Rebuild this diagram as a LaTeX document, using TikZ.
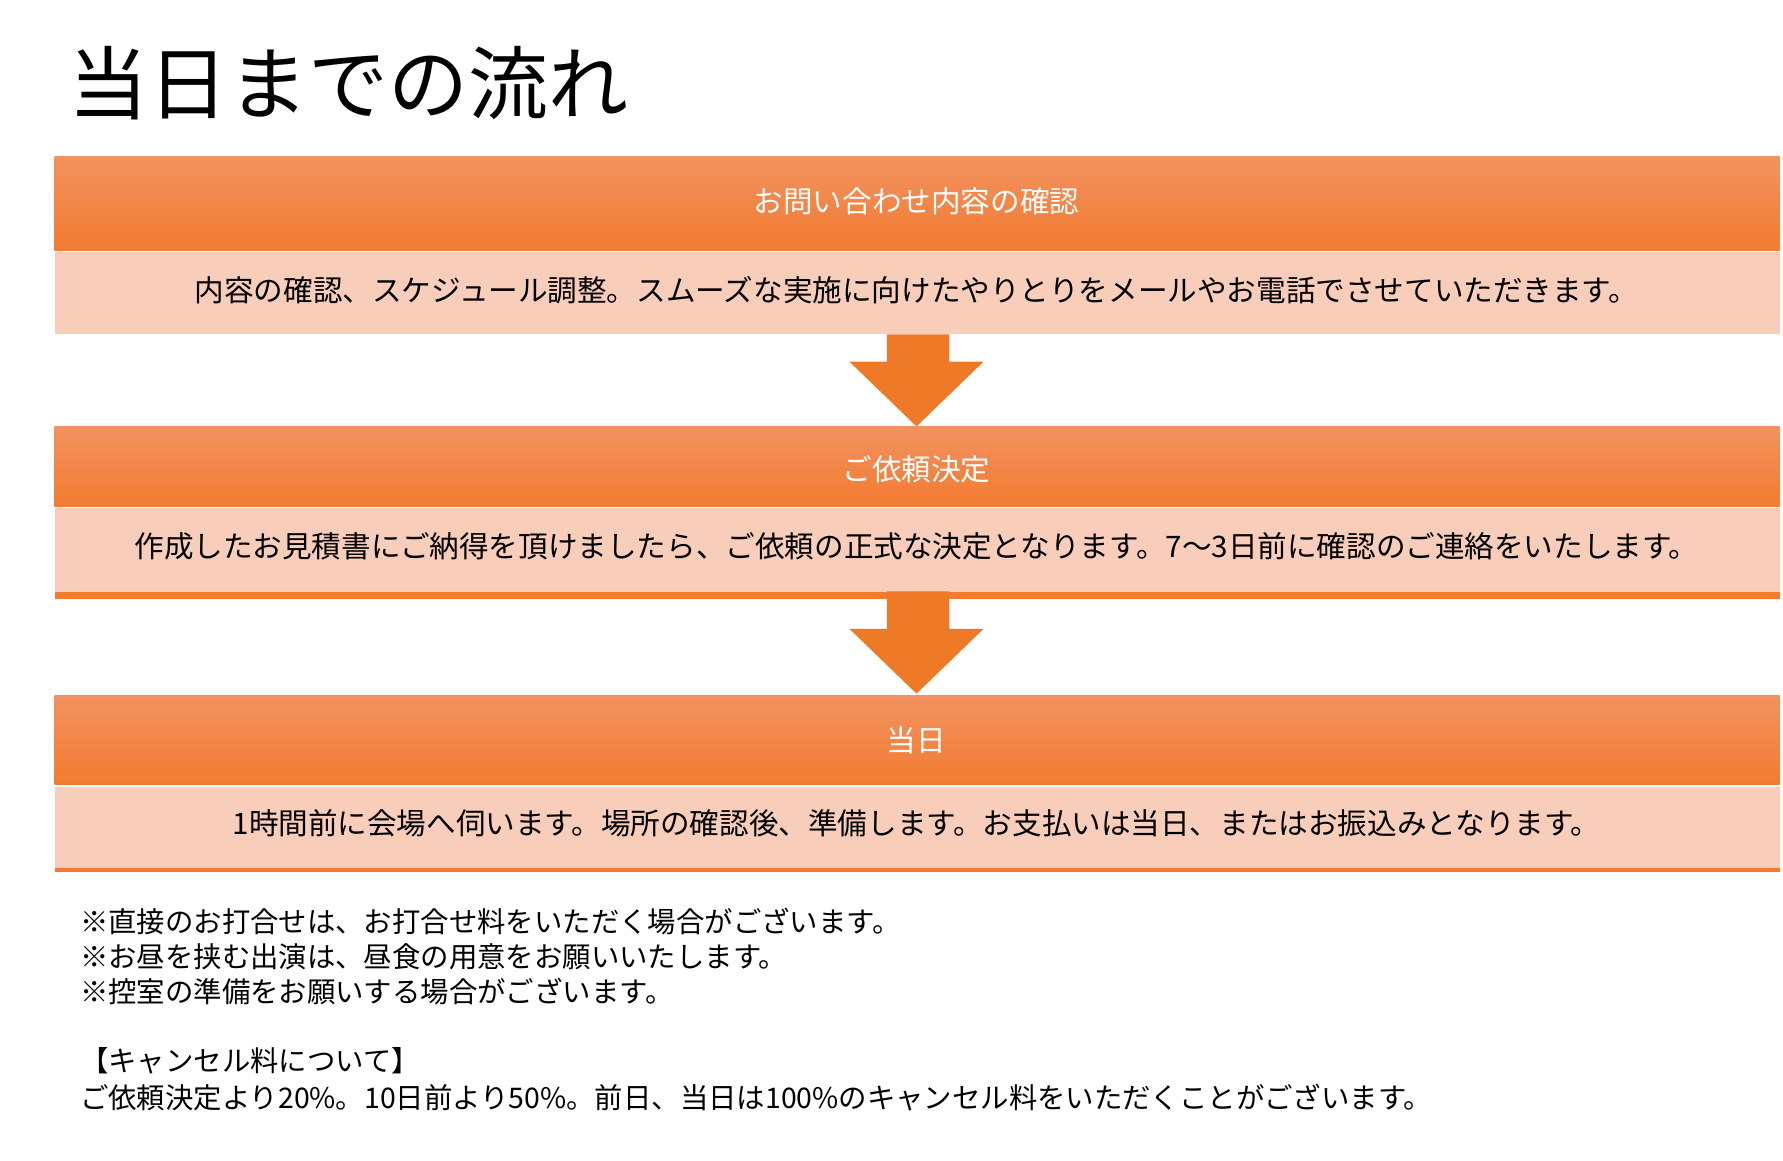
\documentclass[tikz,border=0pt]{standalone}
\usepackage{fontspec}
\setmainfont{Noto Sans CJK JP}
\begin{document}
\begin{tikzpicture}[x=0.01cm,y=-0.01cm,
  hdr/.style={top color=orange!60!white!90!red, bottom color=hdrbot, draw=none},
  bodybox/.style={fill=bodyfill, draw=none},
  htext/.style={text=white, font=\fontsize{7.4pt}{9pt}\selectfont},
  btext/.style={text=black, font=\fontsize{7.4pt}{9pt}\selectfont},
  ntext/.style={text=black, anchor=west, font=\fontsize{7.1pt}{9pt}\selectfont},
  arr/.style={fill=arrcol, draw=none}]
\definecolor{hdrtop}{HTML}{F29260}
\definecolor{hdrbot}{HTML}{F27B30}
\definecolor{bodyfill}{HTML}{F8CDBA}
\definecolor{arrcol}{HTML}{EE7A28}
\useasboundingbox (0,0) rectangle (1568,1021);
\fill[white] (0,0) rectangle (1568,1021);
\node[anchor=west, font=\fontsize{20pt}{24pt}\selectfont] (title) at (48,73) {当日までの流れ};
% box 1
\shade[top color=hdrtop, bottom color=hdrbot] (48,138) rectangle (1565,220);
\node[htext] (h1) at (806,177) {お問い合わせ内容の確認};
\fill[bodyfill] (48,222) rectangle (1565,294);
\node[btext] (b1) at (806,255) {内容の確認、スケジュール調整。スムーズな実施に向けたやりとりをメールやお電話でさせていただきます。};
% arrow 1
\fill[arrcol] (780,294) -- (835,294) -- (835,318) -- (865,318) -- (806,375) -- (747,318) -- (780,318) -- cycle;
% box 2
\shade[top color=hdrtop, bottom color=hdrbot] (48,375) rectangle (1565,445);
\node[htext] (h2) at (806,413) {ご依頼決定};
\fill[bodyfill] (48,447) rectangle (1565,521);
\fill[hdrbot] (48,521) rectangle (1565,527);
\node[btext] (b2) at (806,480) {作成したお見積書にご納得を頂けましたら、ご依頼の正式な決定となります。7～3日前に確認のご連絡をいたします。};
% arrow 2
\fill[arrcol] (780,520) -- (835,520) -- (835,553) -- (865,553) -- (806,610) -- (747,553) -- (780,553) -- cycle;
% box 3
\shade[top color=hdrtop, bottom color=hdrbot] (48,612) rectangle (1565,690);
\node[htext] (h3) at (806,651) {当日};
\fill[bodyfill] (48,692) rectangle (1565,765);
\draw[hdrbot, line width=1pt] (48,765) -- (1565,765);
\node[btext] (b3) at (806,724) {1時間前に会場へ伺います。場所の確認後、準備します。お支払いは当日、またはお振込みとなります。};
% notes
\node[ntext] (n1) at (58,810) {※直接のお打合せは、お打合せ料をいただく場合がございます。};
\node[ntext] (n2) at (58,841) {※お昼を挟む出演は、昼食の用意をお願いいたします。};
\node[ntext] (n3) at (58,872) {※控室の準備をお願いする場合がございます。};
\node[ntext] (n4) at (58,933) {【キャンセル料について】};
\node[ntext] (n5) at (58,965) {ご依頼決定より20\%。10日前より50\%。前日、当日は100\%のキャンセル料をいただくことがございます。};
\end{tikzpicture}
\end{document}
